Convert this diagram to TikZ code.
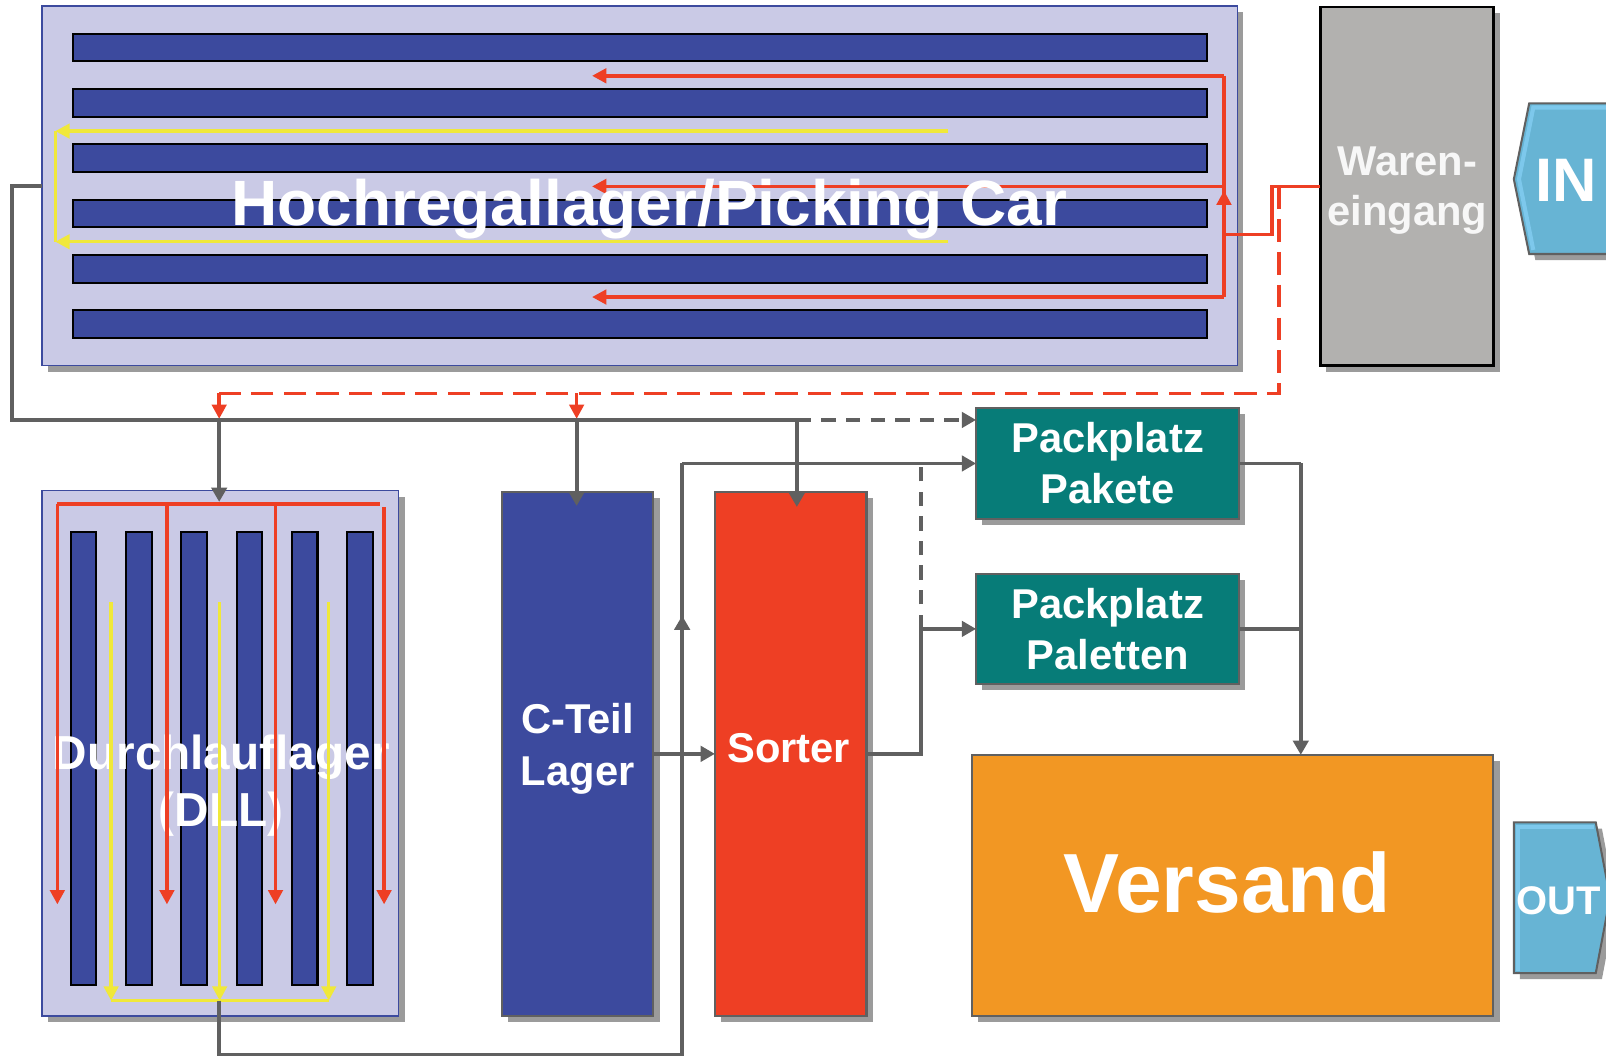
\documentclass[tikz,border=0pt]{standalone}
\usepackage{fontspec}
\setmainfont{Liberation Sans}
\usetikzlibrary{arrows.meta,shadows}
\definecolor{lav}{RGB}{202,202,230}
\definecolor{rackblue}{RGB}{60,74,158}
\definecolor{sred}{RGB}{238,63,36}
\definecolor{syellow}{RGB}{240,232,58}
\definecolor{lgray}{RGB}{96,96,96}
\definecolor{tealbox}{RGB}{7,124,120}
\definecolor{orangebox}{RGB}{242,151,35}
\definecolor{inblue}{RGB}{103,180,212}
\definecolor{inlight}{RGB}{125,200,236}
\definecolor{wgray}{RGB}{178,177,175}
\definecolor{shad}{RGB}{155,155,155}
\tikzset{
  shd/.style={general shadow={fill=shad, shadow xshift=6pt, shadow yshift=-6pt}},
  area/.style={draw=rackblue, line width=1.5pt, fill=lav, shd, inner sep=0pt, outer sep=0pt},
  block/.style={draw=lgray, line width=2pt, inner sep=0pt, outer sep=0pt, shd,
    text=white, font=\fontsize{40.7}{50}\selectfont\bfseries, align=center},
  rack/.style={draw=black, line width=2pt, fill=rackblue, inner sep=0pt, outer sep=0pt},
  flow/.style={draw=lgray, line width=3.8pt},
  flowar/.style={flow, -{Triangle[length=14pt,width=15pt]}},
  flowdash/.style={flow, dash pattern=on 14pt off 10pt},
  redl/.style={draw=sred, line width=3.5pt},
  redar/.style={redl, -{Triangle[length=14pt,width=14pt]}},
  reddash/.style={redl, dash pattern=on 22pt off 10pt},
  yell/.style={draw=syellow, line width=3.3pt},
  yellar/.style={yell, -{Triangle[length=14pt,width=14pt]}},
  lbl/.style={text=white, inner sep=0pt, align=center}
}
\begin{document}
\begin{tikzpicture}[x=1pt,y=-1pt]
\useasboundingbox (0,0) rectangle (1568,1031);

% ---------- Hochregallager ----------
\node[area, minimum width=1167pt, minimum height=351pt] (hrl) at (624.5,181.5) {};
\foreach \k in {0,...,5}{
  \node[rack, minimum width=1107pt, minimum height=27pt] (hb\k) at (624.5,{46.5+54*\k}) {};
}
% yellow
\coordinate (y1) at (926,128);
\coordinate (y2) at (926,236);
\draw[yell] (54,128) -- (54,236);
\draw[yellar] (y1) -- (54,128);
\draw[yellar] (y2) -- (54,236);
% red
\coordinate (rt) at (1195,74);
\coordinate (rm) at (1195,182);
\coordinate (rb) at (1195,290);
\coordinate (rj) at (1195,229);
\draw[redl] (rt) -- (rb);
\draw[redar] (rt) -- (578,74);
\draw[redar] (rm) -- (578,182);
\draw[redar] (rb) -- (578,290);
\draw[redar] (rj) -- (1195,186);
\node[lbl, font=\fontsize{62.5}{70}\selectfont\bfseries] (hrltext) at (634,204) {Hochregallager/Picking Car};

% ---------- Wareneingang / IN ----------
\node[draw=black, line width=2.5pt, fill=wgray, shd, minimum width=169pt, minimum height=350pt,
  inner sep=0pt, outer sep=0pt] (waren) at (1373.5,182) {};
\node[lbl, text=white!97!black, font=\fontsize{40.7}{49}\selectfont\bfseries] (warentext) at (1374,186) {Waren-\\eingang};
\draw[redl] (waren.west) -- (1242,182) -- (1242,229) -- (rj);
\draw[reddash] (1249,182) -- (1249,384) -- (214,384);
\coordinate (dd1) at (214,384);
\coordinate (dd2) at (563,384);
\draw[redar] (dd1) -- (214,409);
\draw[redar] (dd2) -- (563,409);

\fill[shad] (1600,107) -- (1499,107) -- (1484,181) -- (1499,254) -- (1600,254) -- cycle;
\filldraw[fill=inblue, draw=lgray, line width=2pt] (1600,101) -- (1493,101) -- (1478,175) -- (1493,248) -- (1600,248) -- cycle;
\draw[inlight, line width=4pt] (1600,105) -- (1497,105) -- (1483,175) -- (1497,244);
\node[lbl, font=\fontsize{60}{60}\selectfont\bfseries] (intext) at (1529,176) {IN};

% ---------- lower boxes ----------
\node[area, minimum width=348pt, minimum height=513pt] (dll) at (215,735.5) {};
\foreach \k in {0,...,5}{
  \node[rack, minimum width=25pt, minimum height=443pt] (db\k) at ({81.5+54*\k},740.5) {};
}
\node[lbl, font=\fontsize{46.6}{56}\selectfont\bfseries] (dlltext) at (216,767) {Durchlauflager\\(DLL)};
% DLL red
\draw[redl] (56,492) -- (371,492);
\foreach \x in {56,163,269}{ \draw[redar] (\x,492) -- (\x,883); }
\draw[redar] (375,495) -- (375,883);
% DLL yellow
\draw[yell] (108.5,977) -- (321,977);
\foreach \x in {108.5,214.5,321}{ \draw[yellar] (\x,588) -- (\x,977); }

\node[block, fill=rackblue, minimum width=148pt, minimum height=512pt] (cteil) at (564,736) {};
\node[lbl, font=\fontsize{40.7}{50}\selectfont\bfseries] (cteiltext) at (564,731) {C-Teil\\Lager};
\node[block, fill=sred, minimum width=148pt, minimum height=512pt] (sorter) at (772,736) {};
\node[lbl, font=\fontsize{40.7}{50}\selectfont\bfseries] (sortertext) at (770,730) {Sorter};
\node[block, fill=tealbox, minimum width=257pt, minimum height=109pt] (pakete) at (1081.5,452.5) {Packplatz\\Pakete};
\node[block, fill=tealbox, minimum width=257pt, minimum height=108pt] (paletten) at (1081.5,614) {Packplatz\\Paletten};
\node[block, fill=orangebox, minimum width=509pt, minimum height=255pt] (versand) at (1203.5,864.5) {};
\node[lbl, font=\fontsize{82}{90}\selectfont\bfseries] (versandtext) at (1198,862) {Versand};

% OUT
\fill[shad] (1484,809) -- (1564,809) -- (1578,882) -- (1564,956) -- (1484,956) -- cycle;
\filldraw[fill=inblue, draw=lgray, line width=2pt] (1478,803) -- (1558,803) -- (1572,876) -- (1558,950) -- (1478,950) -- cycle;
\draw[inlight, line width=4pt] (1482,948) -- (1482,807) -- (1556,807);
\node[lbl, font=\fontsize{39}{40}\selectfont\bfseries] (outtext) at (1522,879) {OUT};

% ---------- grey flows ----------
\coordinate (g1) at (12,181.5);
\coordinate (g2) at (12,410);
\coordinate (g3) at (778,410);
\draw[flow] (hrl.west) -- (g1) -- (g2) -- (g3);
\draw[flowar] (214,410) -- (214,490);
\draw[flowar] (563,410) -- (563,494);
\draw[flowar] (g3) -- (778,495);
\draw[flowdash] (g3) -- (940,410);
\draw[flowar] (940,410) -- (pakete.west |- 0,410);

\coordinate (b1) at (214,1030);
\coordinate (b2) at (666,1030);
\coordinate (b3) at (666,452.5);
\draw[flow] (214,977) -- (b1) -- (b2) -- (b3);
\draw[flowar] (b3) -- (pakete.west);
\draw[flowar] (666,650) -- (666,601);

\draw[flowar] (cteil.east) -- (sorter.west);
\coordinate (s1) at (899,736);
\coordinate (s2) at (899,614);
\draw[flow] (sorter.east) -- (s1) -- (s2);
\draw[flowar] (s2) -- (paletten.west);
\draw[flowdash] (s2) -- (899,452.5);

\coordinate (v1) at (1270,452.5);
\coordinate (v2) at (1270,614);
\draw[flow] (pakete.east) -- (v1);
\draw[flow] (paletten.east) -- (v2);
\draw[flowar] (v1) -- (versand.north -| v1);
\end{tikzpicture}
\end{document}
